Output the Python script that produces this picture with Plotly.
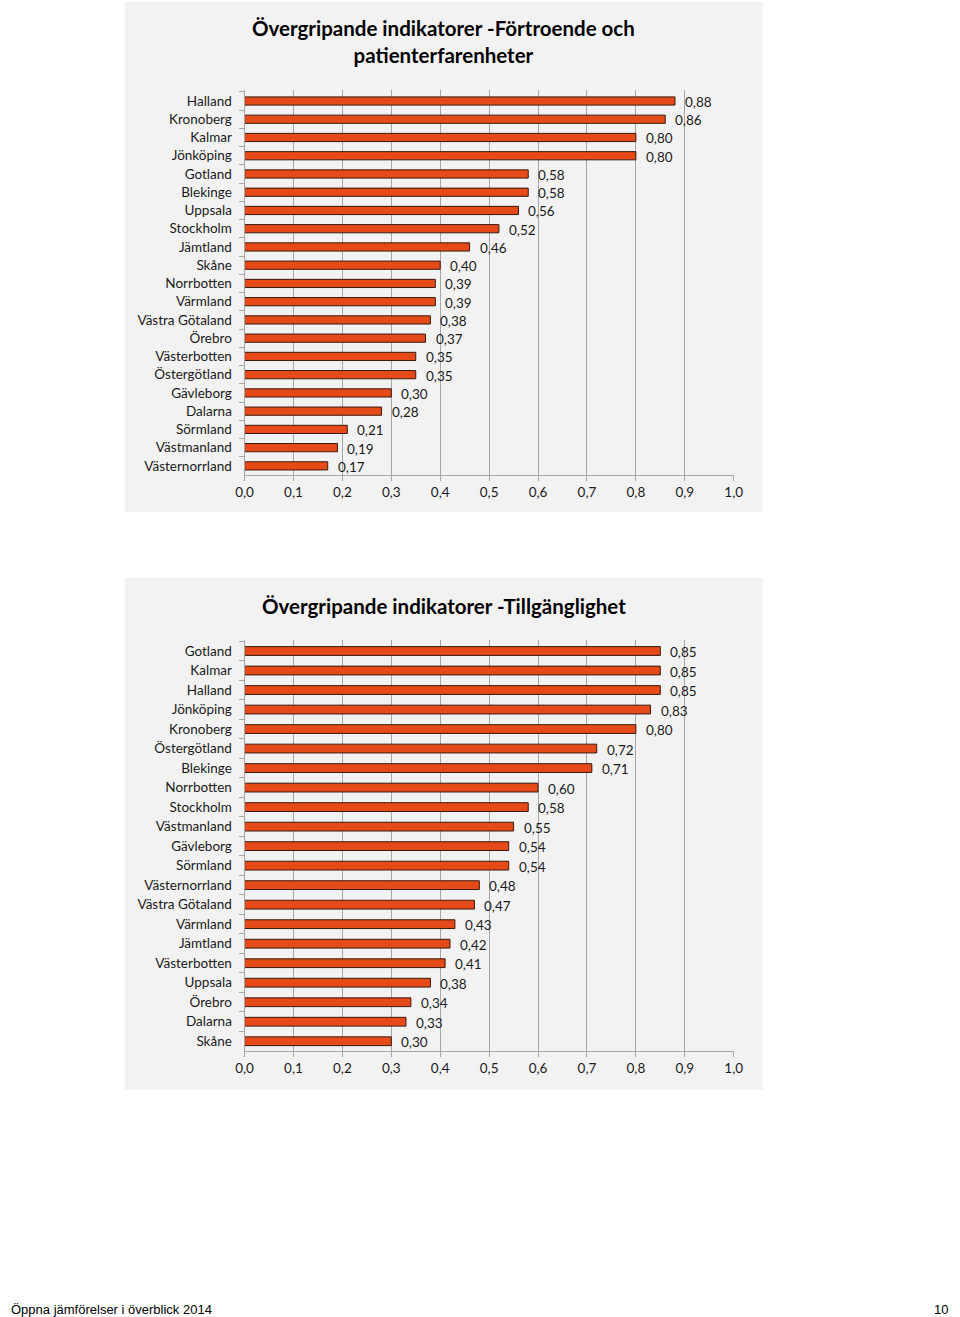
import plotly.graph_objects as go

# ---- Data ----
regions_1 = ["Halland", "Kronoberg", "Kalmar", "Jönköping", "Gotland", "Blekinge", "Uppsala",
             "Stockholm", "Jämtland", "Skåne", "Norrbotten", "Värmland", "Västra Götaland",
             "Örebro", "Västerbotten", "Östergötland", "Gävleborg", "Dalarna", "Sörmland",
             "Västmanland", "Västernorrland"]
values_1 = [0.88, 0.86, 0.80, 0.80, 0.58, 0.58, 0.56, 0.52, 0.46, 0.40, 0.39, 0.39, 0.38,
            0.37, 0.35, 0.35, 0.30, 0.28, 0.21, 0.19, 0.17]

regions_2 = ["Gotland", "Kalmar", "Halland", "Jönköping", "Kronoberg", "Östergötland", "Blekinge",
             "Norrbotten", "Stockholm", "Västmanland", "Gävleborg", "Sörmland", "Västernorrland",
             "Västra Götaland", "Värmland", "Jämtland", "Västerbotten", "Uppsala", "Örebro",
             "Dalarna", "Skåne"]
values_2 = [0.85, 0.85, 0.85, 0.83, 0.80, 0.72, 0.71, 0.60, 0.58, 0.55, 0.54, 0.54, 0.48,
            0.47, 0.43, 0.42, 0.41, 0.38, 0.34, 0.33, 0.30]

title_1 = "Övergripande indikatorer -Förtroende och<br>patienterfarenheter"
title_2 = "Övergripande indikatorer -Tillgänglighet"
x_ticks = [0.0, 0.1, 0.2, 0.3, 0.4, 0.5, 0.6, 0.7, 0.8, 0.9, 1.0]
x_tick_labels = [f"{v:.1f}".replace(".", ",") for v in x_ticks]
footer_left = "Öppna jämförelser i överblick 2014"
footer_right = "10"

W, H = 960, 1317
# horizontal placement as measured in the rendered page (page offset and scale)
OFF, SCALE = 8.0, 0.982
FONT = "Lato"
BAR_FILL = "#E64A19"
BAR_LINE = "#3A1A0C"
GRID = "#A6A6A6"

def px_(x):
    return min(max((x - OFF) / SCALE / W, 0.0), 1.0)

def py(y):
    return 1 - y / H

fig = go.Figure()

fig.add_trace(go.Bar(x=values_1, y=regions_1, orientation="h", xaxis="x", yaxis="y",
                     marker=dict(color=BAR_FILL, line=dict(color=BAR_LINE, width=1)),
                     showlegend=False, hoverinfo="x+y"))
fig.add_trace(go.Bar(x=values_2, y=regions_2, orientation="h", xaxis="x2", yaxis="y2",
                     marker=dict(color=BAR_FILL, line=dict(color=BAR_LINE, width=1)),
                     showlegend=False, hoverinfo="x+y"))

annotations = []
for r, v in zip(regions_1, values_1):
    annotations.append(dict(x=v, y=r, xref="x", yref="y", text=f"{v:.2f}".replace(".", ","),
                            showarrow=False, xanchor="left", xshift=8, yshift=-1,
                            font=dict(family=FONT, size=13.5, color="#1a1a1a")))
for r, v in zip(regions_2, values_2):
    annotations.append(dict(x=v, y=r, xref="x2", yref="y2", text=f"{v:.2f}".replace(".", ","),
                            showarrow=False, xanchor="left", xshift=8, yshift=-1,
                            font=dict(family=FONT, size=13.5, color="#1a1a1a")))

annotations.append(dict(x=px_(443.5), y=py(42), xref="paper", yref="paper",
                        text="<b>" + title_1.replace("<br>", "</b><br><b>") + "</b>",
                        showarrow=False, xanchor="center", yanchor="middle",
                        font=dict(family=FONT, size=20.5, color="#000000")))
annotations.append(dict(x=px_(443.5), y=py(606), xref="paper", yref="paper", text="<b>" + title_2 + "</b>",
                        showarrow=False, xanchor="center", yanchor="middle",
                        font=dict(family=FONT, size=20.5, color="#000000")))
annotations.append(dict(x=0, y=py(1309), xref="paper", yref="paper", text=footer_left,
                        showarrow=False, xanchor="left", yanchor="middle",
                        font=dict(family="Liberation Sans", size=13, color="#000000")))
annotations.append(dict(x=1, y=py(1309), xref="paper", yref="paper", text=footer_right,
                        showarrow=False, xanchor="right", yanchor="middle",
                        font=dict(family="Liberation Sans", size=13, color="#000000")))

shapes = [
    dict(type="rect", xref="paper", yref="paper", x0=px_(124), x1=px_(763), y0=py(512), y1=py(2),
         fillcolor="#F2F2F2", line=dict(width=0), layer="below"),
    dict(type="rect", xref="paper", yref="paper", x0=px_(124), x1=px_(763), y0=py(1090), y1=py(578),
         fillcolor="#F2F2F2", line=dict(width=0), layer="below"),
]

xaxis_common = dict(range=[0, 1], tickvals=x_ticks, ticktext=x_tick_labels, showgrid=True,
                    gridcolor=GRID, gridwidth=1, showline=True, linecolor=GRID, linewidth=1,
                    ticks="outside", ticklen=5, tickcolor=GRID, zeroline=False,
                    tickfont=dict(family=FONT, size=13.5, color="#1a1a1a"), fixedrange=True)
yaxis_common = dict(type="category", autorange="reversed", showline=True, linecolor=GRID,
                    linewidth=1, ticks="outside", ticklen=5, tickcolor=GRID, tickson="boundaries",
                    showgrid=False, tickfont=dict(family=FONT, size=13.5, color="#1a1a1a"),
                    ticklabelstandoff=9, fixedrange=True)

fig.update_layout(
    width=W, height=H,
    margin=dict(l=0, r=0, t=0, b=0),
    paper_bgcolor="white", plot_bgcolor="white",
    bargap=0.55,
    xaxis=dict(domain=[px_(244), px_(734)], anchor="y", **xaxis_common),
    yaxis=dict(domain=[py(475), py(90)], anchor="x", **yaxis_common),
    xaxis2=dict(domain=[px_(244), px_(734)], anchor="y2", **xaxis_common),
    yaxis2=dict(domain=[py(1051), py(640)], anchor="x2", **yaxis_common),
    annotations=annotations,
    shapes=shapes,
)

fig.write_html("out.html")
